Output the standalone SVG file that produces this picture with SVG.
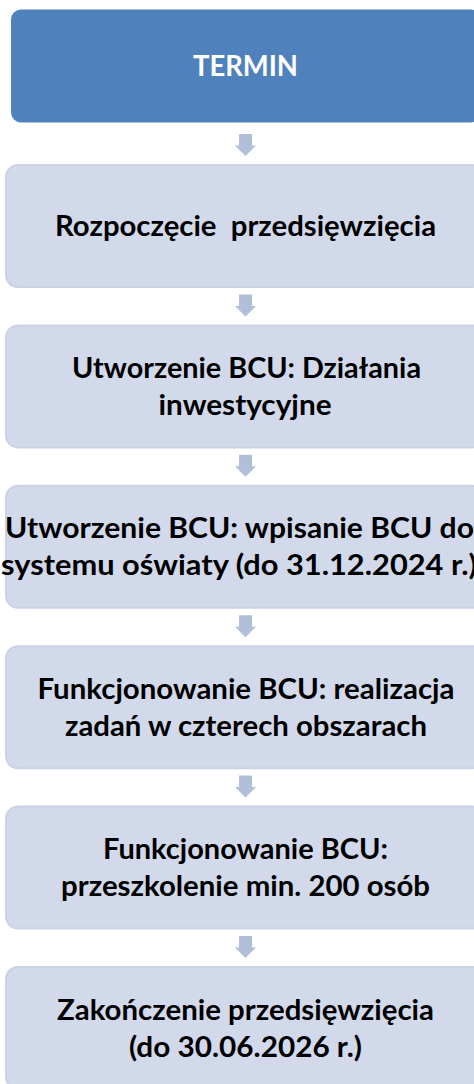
<svg xmlns="http://www.w3.org/2000/svg" width="474" height="1084" viewBox="0 0 474 1084">
<defs>
<style>
.head{fill:#4F81BD;}
.box{fill:#D2D9EA;stroke:#CAD2E5;stroke-width:2;}
.arrow{fill:#B1BFDB;}
.t{font-family:Lato,"Open Sans","Liberation Sans",sans-serif;font-weight:bold;font-size:28.8px;text-anchor:middle;fill:#000;}
.tw{fill:#FFFFFF;}
</style>
<path id="arr" class="arrow" d="M-6.5,-31 H6.5 V-19.5 H10.5 L0,-9 L-10.5,-19.5 H-6.5 Z"/>
</defs>
<g id="connectors">
<use href="#arr" x="245.5" y="165"/>
<use href="#arr" x="245.5" y="325.4"/>
<use href="#arr" x="245.5" y="485.8"/>
<use href="#arr" x="245.5" y="646.2"/>
<use href="#arr" x="245.5" y="806.6"/>
<use href="#arr" x="245.5" y="967"/>
</g>
<g id="n0">
<rect class="head" x="11" y="9.5" width="470" height="113" rx="10"/>
<text class="t tw" x="245.5" y="76" textLength="105" lengthAdjust="spacingAndGlyphs">TERMIN</text>
</g>
<g id="n1">
<rect class="box" x="6" y="165" width="478" height="122" rx="12"/>
<text class="t" x="245.5" y="236" textLength="381" lengthAdjust="spacingAndGlyphs" xml:space="preserve">Rozpoczęcie  przedsięwzięcia</text>
</g>
<g id="n2">
<rect class="box" x="6" y="325.4" width="478" height="122" rx="12"/>
<text class="t" x="246.5" y="378" textLength="349" lengthAdjust="spacingAndGlyphs">Utworzenie BCU: Działania</text>
<text class="t" x="245" y="415" textLength="173" lengthAdjust="spacingAndGlyphs">inwestycyjne</text>
</g>
<g id="n3">
<rect class="box" x="6" y="485.8" width="478" height="122" rx="12"/>
<text class="t" x="239.5" y="538.4" textLength="469" lengthAdjust="spacingAndGlyphs">Utworzenie BCU: wpisanie BCU do</text>
<text class="t" x="239" y="575.4" textLength="476" lengthAdjust="spacingAndGlyphs">systemu oświaty (do 31.12.2024 r.)</text>
</g>
<g id="n4">
<rect class="box" x="6" y="646.2" width="478" height="122" rx="12"/>
<text class="t" x="246" y="698.8" textLength="417" lengthAdjust="spacingAndGlyphs">Funkcjonowanie BCU: realizacja</text>
<text class="t" x="246" y="735.8" textLength="362" lengthAdjust="spacingAndGlyphs">zadań w czterech obszarach</text>
</g>
<g id="n5">
<rect class="box" x="6" y="806.6" width="478" height="122" rx="12"/>
<text class="t" x="245.5" y="859.2" textLength="285" lengthAdjust="spacingAndGlyphs">Funkcjonowanie BCU:</text>
<text class="t" x="245.5" y="896.2" textLength="369" lengthAdjust="spacingAndGlyphs">przeszkolenie min. 200 osób</text>
</g>
<g id="n6">
<rect class="box" x="6" y="967" width="478" height="122" rx="12"/>
<text class="t" x="245.5" y="1019.6" textLength="377" lengthAdjust="spacingAndGlyphs">Zakończenie przedsięwzięcia</text>
<text class="t" x="245.5" y="1056.6" textLength="233" lengthAdjust="spacingAndGlyphs">(do 30.06.2026 r.)</text>
</g>
</svg>
